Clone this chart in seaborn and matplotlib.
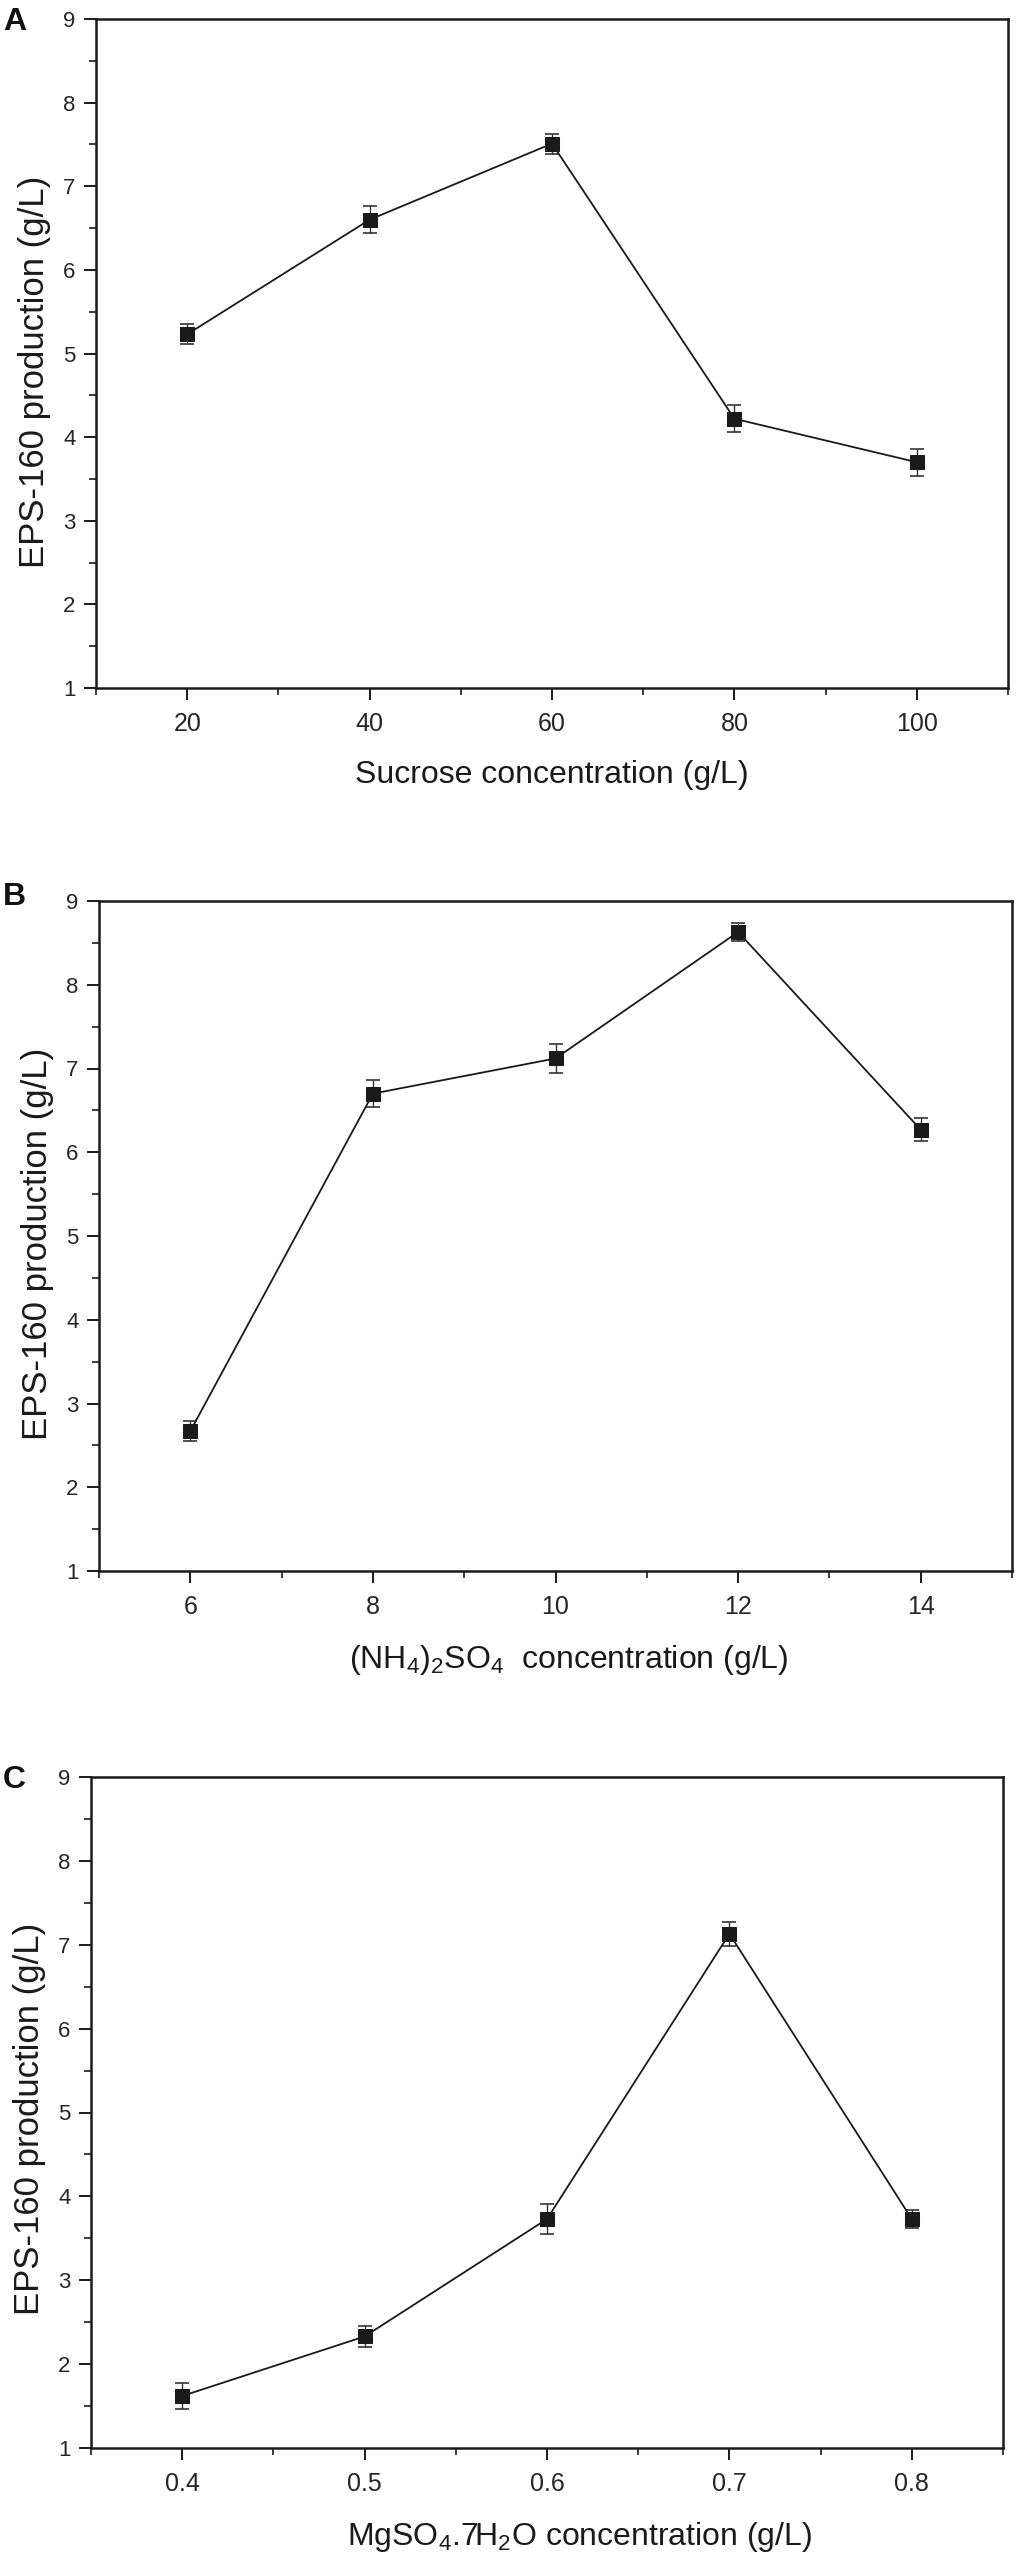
import numpy as np
import pandas as pd
import matplotlib
matplotlib.use("Agg")
import matplotlib.pyplot as plt
import seaborn as sns
from matplotlib.ticker import AutoMinorLocator, FixedLocator

# panel A : sucrose
sucrose = [20, 40, 60, 80, 100]
eps_sucrose = [5.23, 6.60, 7.51, 4.22, 3.70]
err_sucrose = [0.12, 0.16, 0.12, 0.16, 0.16]

# panel B : ammonium sulfate
nh4 = [6, 8, 10, 12, 14]
eps_nh4 = [2.67, 6.70, 7.12, 8.63, 6.27]
err_nh4 = [0.12, 0.16, 0.17, 0.11, 0.14]

# panel C : magnesium sulfate
mgso4 = [0.4, 0.5, 0.6, 0.7, 0.8]
eps_mgso4 = [1.62, 2.33, 3.73, 7.13, 3.73]
err_mgso4 = [0.16, 0.12, 0.18, 0.14, 0.11]

ylab = 'EPS-160 production (g/L)'
xlabs = ['Sucrose concentration (g/L)',
         r'(NH$_\mathregular{4}$)$_\mathregular{2}$SO$_\mathregular{4}$  concentration (g/L)',
         r'MgSO$_\mathregular{4}$.7H$_\mathregular{2}$O concentration (g/L)']
letters = ['A', 'B', 'C']

sns.set_theme(style="ticks")
plt.rcParams['font.family'] = ['Liberation Sans', 'DejaVu Sans']
plt.rcParams['mathtext.fontset'] = 'custom'
plt.rcParams['mathtext.rm'] = 'Liberation Sans'

W, H = 1018, 2557
fig = plt.figure(figsize=(W / 100, H / 100), dpi=100)

# axes boxes in pixels : left, top, right, bottom
boxes = [(96, 19, 1008, 688), (99, 901, 1012, 1571), (91, 1777, 1003, 2448)]
xlims = [(10, 110), (5, 15), (0.35, 0.85)]
label_x = [0.5, 0.515, 0.536]
label_y = [0.473, 0.488, 0.49]
letter_top = [7, 882, 1765]

panels = [(sucrose, eps_sucrose, err_sucrose),
          (nh4, eps_nh4, err_nh4),
          (mgso4, eps_mgso4, err_mgso4)]

for i, (xs, ys, es) in enumerate(panels):
    l, t, r, b = boxes[i]
    ax = fig.add_axes([l / W, 1 - b / H, (r - l) / W, (b - t) / H])
    df = pd.DataFrame({'x': xs, 'y': ys})
    ax.errorbar(xs, ys, yerr=es, fmt='none', ecolor='#333333', elinewidth=1.0,
                capsize=5, capthick=1.2, zorder=2)
    sns.lineplot(data=df, x='x', y='y', ax=ax, color='#1a1a1a', linewidth=1.3,
                 marker='s', markersize=10, markeredgecolor='#1a1a1a',
                 errorbar=None, zorder=3)
    ax.set_xlim(*xlims[i])
    ax.set_ylim(1, 9)
    ax.xaxis.set_major_locator(FixedLocator(xs))
    ax.yaxis.set_major_locator(FixedLocator(range(1, 10)))
    ax.xaxis.set_minor_locator(AutoMinorLocator(2))
    ax.yaxis.set_minor_locator(AutoMinorLocator(2))
    if i == 2:
        ax.set_xticklabels(['%.1f' % v for v in xs])
    for s in ax.spines.values():
        s.set_linewidth(1.8)
        s.set_color('#1a1a1a')
    ax.tick_params(which='major', direction='out', length=8.6, width=1.4, color='#1a1a1a')
    ax.tick_params(which='minor', direction='out', length=5, width=1.2, color='#1a1a1a')
    ax.tick_params(axis='x', which='major', labelsize=18, pad=9)
    ax.tick_params(axis='y', which='major', labelsize=16, pad=6)
    ax.set_ylabel(ylab, fontsize=25, labelpad=9, color='#1a1a1a')
    ax.set_xlabel(xlabs[i], fontsize=23, labelpad=17, color='#1a1a1a')
    ax.xaxis.label.set_x(label_x[i])
    ax.yaxis.label.set_y(label_y[i])
    fig.text(3 / W, 1 - letter_top[i] / H, letters[i], ha='left', va='top',
             fontsize=23, fontweight='bold', color='#111111')

fig.savefig('out.png', dpi=100)
